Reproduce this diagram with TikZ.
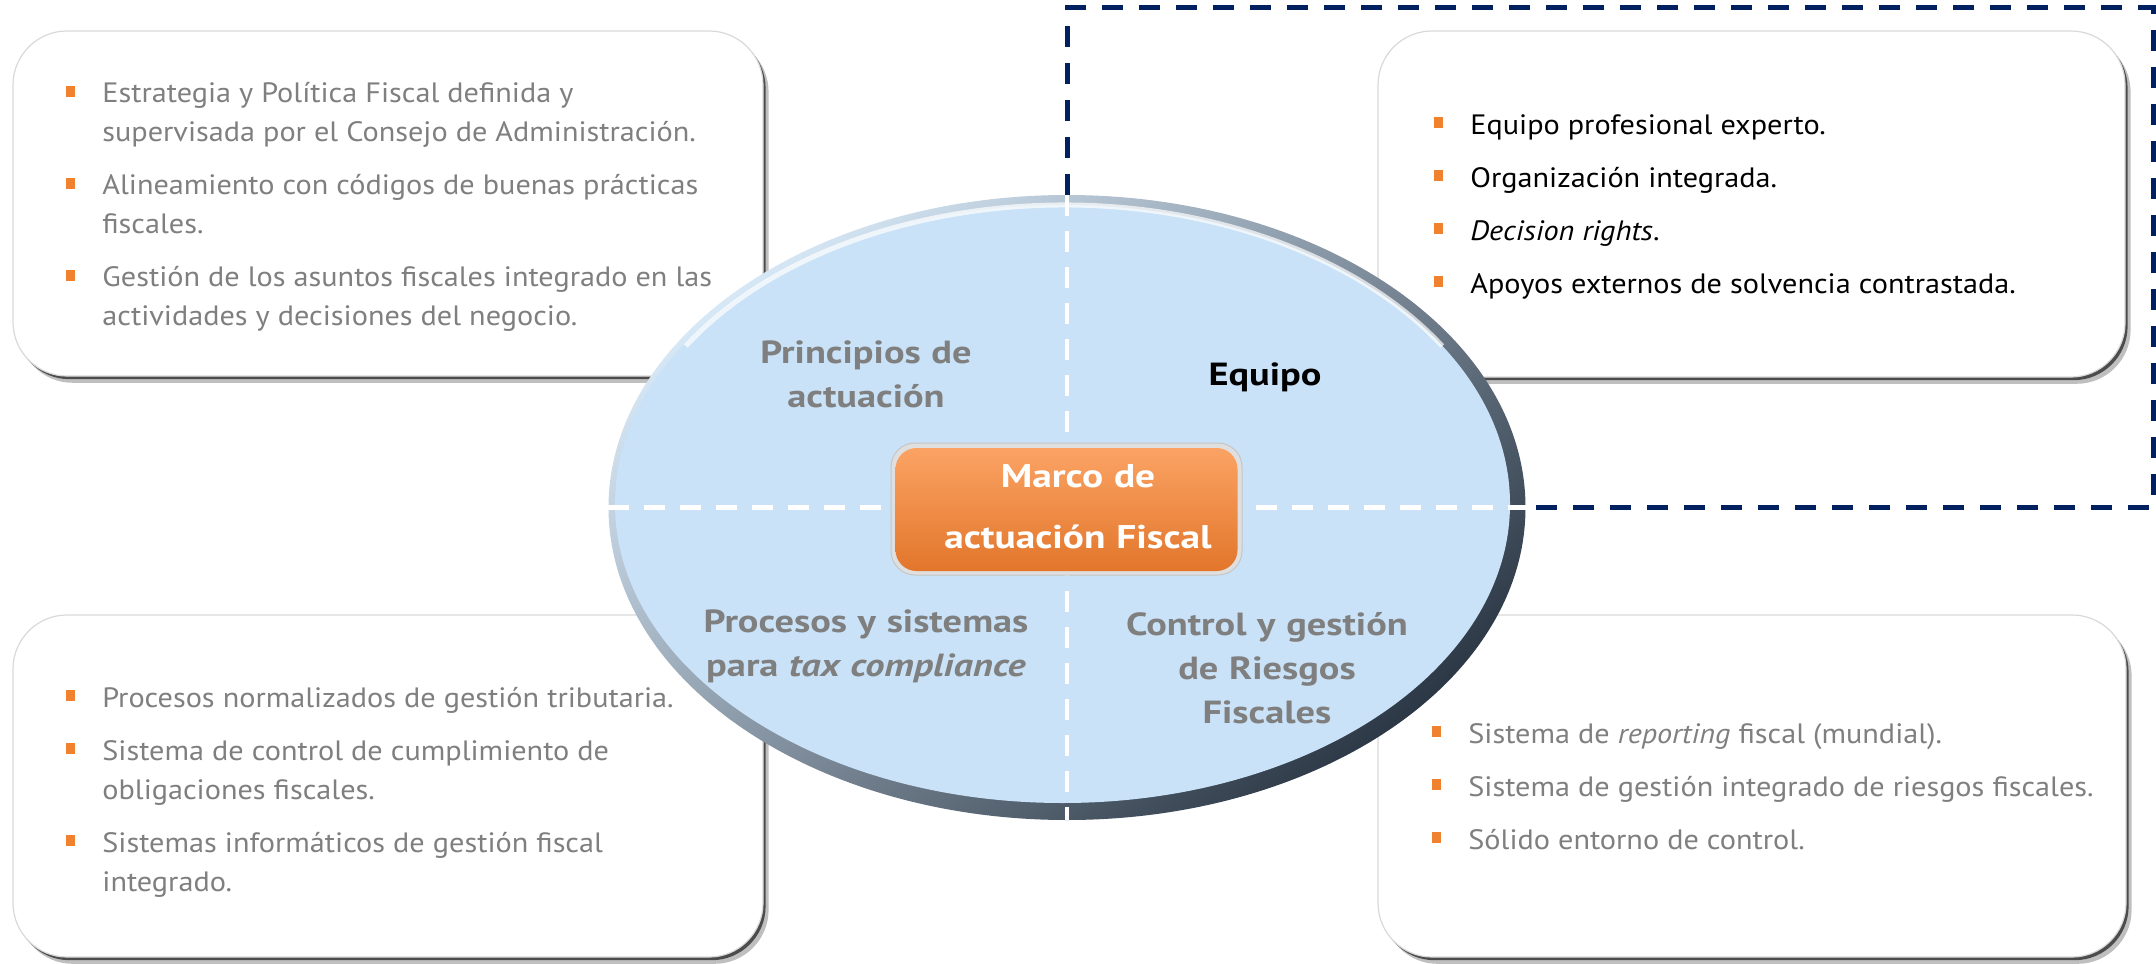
\documentclass[tikz,border=0pt]{standalone}
\usepackage{fontspec}
\setmainfont{PT Sans}[FakeStretch=1.08]
\newfontfamily\fuenteRotulo{PT Sans}[FakeStretch=1.2]
\usetikzlibrary{shapes.geometric,shadows}

\definecolor{naranja}{HTML}{F0812F}
\definecolor{gris}{HTML}{7F7F7F}
\definecolor{azulclaro}{HTML}{C9E2F7}
\definecolor{marino}{HTML}{002060}
\definecolor{marco}{HTML}{F98A3A}

\newcommand{\vineta}[1]{\par\hangindent=18pt\hangafter=1\noindent
  \makebox[18pt][l]{\textcolor{naranja}{\rule[3pt]{4.5pt}{5.5pt}}}#1\par}
\newcommand{\cuerpo}[1]{\parbox[t]{390pt}{\fontsize{14}{19.5}\selectfont
  \setlength{\parskip}{7pt}#1}}

\tikzstyle{caja} = [rectangle, rounded corners=27pt, fill=white, draw=gray!30, line width=0.6pt,
  general shadow={fill=gray!50, shadow xshift=2.8pt, shadow yshift=-3.4pt},
  general shadow={fill=black!70, shadow xshift=1.3pt, shadow yshift=-1.6pt}]
\tikzstyle{lista} = [anchor=base west, inner sep=0pt, text=gris]
\tikzstyle{rotulo} = [anchor=base, inner sep=0pt, text width=200pt, align=center, text=gris,
  font=\fuenteRotulo\bfseries\fontsize{16}{22}\selectfont]
\tikzstyle{blanca} = [white, line width=2.2pt, dash pattern=on 10.5pt off 7.5pt]
\tikzstyle{marina} = [marino, line width=2.5pt, dash pattern=on 10.5pt off 8pt]

\begin{document}
\begin{tikzpicture}[x=0.5pt,y=-0.5pt]
  \useasboundingbox (0,0) rectangle (2156,963);

  % cajas
  \node (cajaPrincipios) at (388,203.5) [caja, minimum width=375pt, minimum height=172.5pt] {};
  \node (cajaEquipo) at (1751.5,204) [caja, minimum width=373.5pt, minimum height=173pt] {};
  \node (cajaProcesos) at (388,786) [caja, minimum width=375pt, minimum height=171pt] {};
  \node (cajaControl) at (1752,786) [caja, minimum width=374pt, minimum height=171pt] {};

  \node (listaPrincipios) at (66,103) [lista] {\cuerpo{%
    \vineta{Estrategia y Política Fiscal definida y\\supervisada por el Consejo de Administración.}
    \vineta{Alineamiento con códigos de buenas prácticas\\fiscales.}
    \vineta{Gestión de los asuntos fiscales integrado en las\\actividades y decisiones del negocio.}}};
  \node (listaEquipo) at (1434,134) [lista, text=black] {\cuerpo{%
    \vineta{Equipo profesional experto.}
    \vineta{Organización integrada.}
    \vineta{\textit{Decision rights}.}
    \vineta{Apoyos externos de solvencia contrastada.}}};
  \node (listaProcesos) at (66,707) [lista] {\cuerpo{%
    \vineta{Procesos normalizados de gestión tributaria.}
    \vineta{Sistema de control de cumplimiento de\\obligaciones fiscales.}
    \vineta{Sistemas informáticos de gestión fiscal\\integrado.}}};
  \node (listaControl) at (1432,743) [lista] {\cuerpo{%
    \vineta{Sistema de \textit{reporting} fiscal (mundial).}
    \vineta{Sistema de gestión integrado de riesgos fiscales.}
    \vineta{Sólido entorno de control.}}};

  % elipse central
  \node (aro) at (1067,507.5) [ellipse, inner sep=0pt, minimum width=458.5pt, minimum height=312.5pt,
    top color={rgb,255:red,214;green,231;blue,246}, middle color={rgb,255:red,160;green,185;blue,210},
    bottom color={rgb,255:red,44;green,56;blue,70}, shading angle=40] {};
  \node (elipse) at (1062.5,504) [ellipse, inner sep=0pt, minimum width=447.5pt, minimum height=299pt,
    fill=azulclaro] {};
  \draw [white, line width=2.5pt, opacity=0.7]
    ([shift={(212:446 and 300)}]1064,505) arc [start angle=212, end angle=328, x radius=446, y radius=300];

  \coordinate (esquina) at (2153,8);
  \draw [marina] (aro.north) |- (esquina) |- (aro.east);
  \draw [blanca] (aro.north) -- (aro.south);
  \draw [blanca] (aro.west) -- (aro.east);

  % marco
  \node (marcoBorde) at (1066.5,509) [rectangle, rounded corners=12pt, minimum width=175.5pt,
    minimum height=66pt, fill=gray!25, draw=gray!45, line width=0.5pt] {};
  \node (marco) at (1066.5,509.5) [rectangle, rounded corners=10.5pt, minimum width=171pt,
    minimum height=61.5pt, top color={rgb,255:red,251;green,163;blue,100}, middle color=marco,
    bottom color={rgb,255:red,226;green,118;blue,43}] {};

  \node (principios) at (866,363) [rotulo] {Principios de\\actuación};
  \node (equipo) at (1265,385) [rotulo, text=black] {Equipo};
  \node (procesos) at (866,632) [rotulo] {Procesos y sistemas\\para \textit{tax compliance}};
  \node (control) at (1267,635) [rotulo] {Control y gestión\\de Riesgos\\Fiscales};
  \node (marcoTexto) at (1078,487) [rotulo, text=white,
    font=\fuenteRotulo\bfseries\fontsize{16.4}{30.5}\selectfont] {Marco de\\actuación Fiscal};
\end{tikzpicture}
\end{document}
